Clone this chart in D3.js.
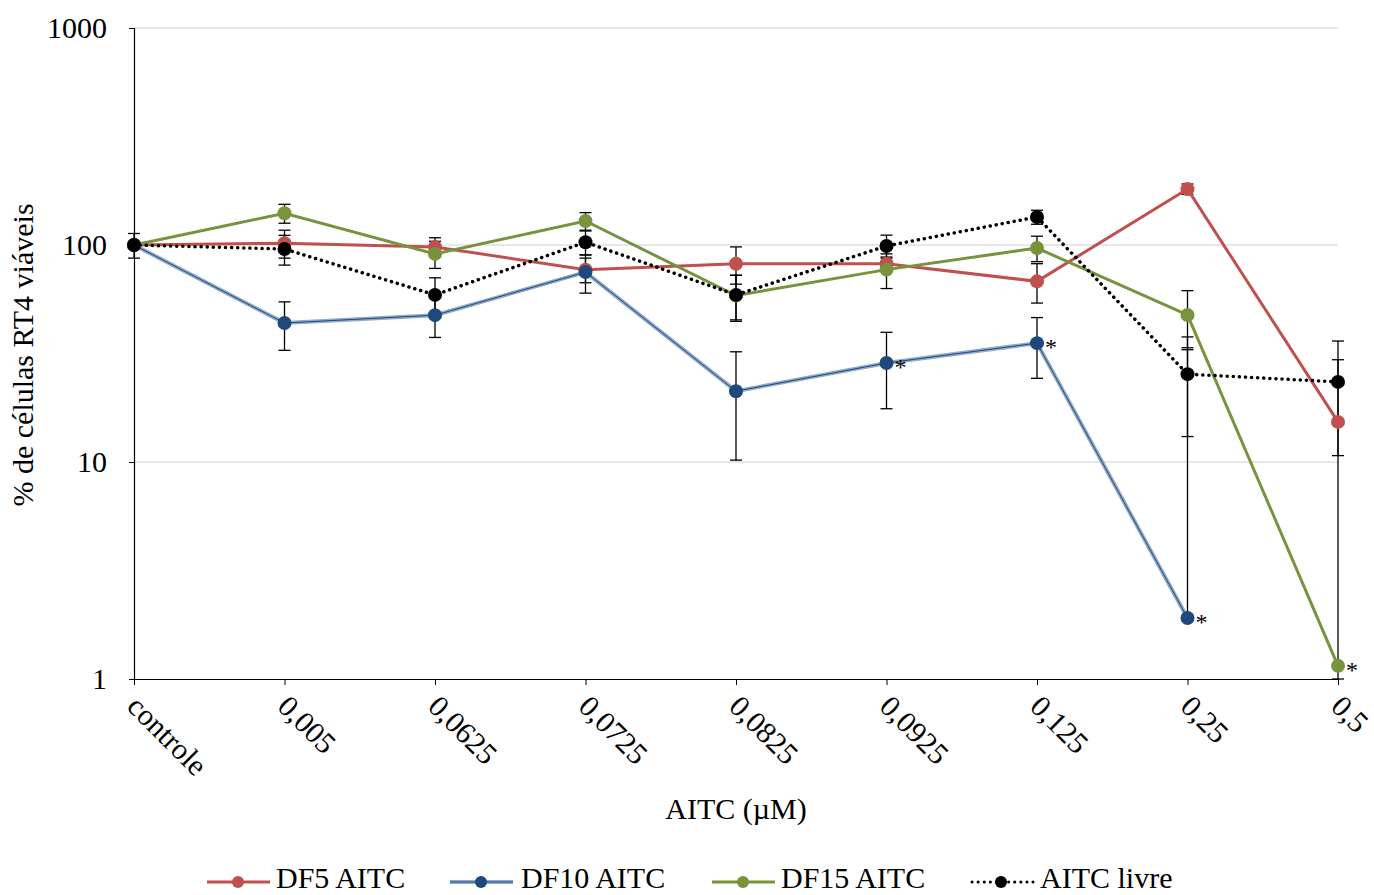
<!DOCTYPE html>
<html><head><meta charset="utf-8">
<script src="https://cdn.jsdelivr.net/npm/d3@7"></script>
<style>body{margin:0;background:#fff}svg{display:block}text{font-family:"Times New Roman",Times,"Liberation Serif",serif !important;fill:#000}</style>
</head><body><svg id="c" width="1374" height="895"></svg>
<script>
const categories = ["controle","0,005","0,0625","0,0725","0,0825","0,0925","0,125","0,25","0,5"];
const yTicks = [1,10,100,1000];
const df5 = [100,102,98,77,82,82,68,181,15.3];
const df5Err = [0,15,10,10,16,6,14,10,14.3];
const df10 = [100,43.7,47.5,75,21.2,28.6,35.3,1.91,null];
const df10Err = [0,11,10,15,11,11,11,31,null];
const df15 = [100,140,91,129,58.5,77,96.8,47.6,1.15];
const df15Err = [0,14,13,12,14,14,13,14,0];
const livre = [100,95.8,58.9,103,58.9,99,134.6,25.4,23.4];
const livreErr = [13,15,11.7,13,13.7,12,10,12.3,12.7];
const stars = [["df10",5],["df10",6],["df10",7],["df15",8]];

const series = [
  {key:"df5", name:"DF5 AITC", v:df5, e:df5Err, color:"#C0504D"},
  {key:"df10", name:"DF10 AITC", v:df10, e:df10Err, color:"#1F497D", halo:"#8FAACB"},
  {key:"df15", name:"DF15 AITC", v:df15, e:df15Err, color:"#77933C"},
  {key:"livre", name:"AITC livre", v:livre, e:livreErr, color:"#000", dotted:true}
];
const FONT = '"Times New Roman", Times, "Liberation Serif", serif';

const svg = d3.select("#c");
const x = d3.scalePoint().domain(categories).range([134,1338]);
const y = d3.scaleLog().domain([1,1000]).range([679,28]);

// grid
svg.append("g").selectAll("line").data(yTicks.slice(1)).join("line")
  .attr("x1",134).attr("x2",1338).attr("y1",d=>y(d)).attr("y2",d=>y(d))
  .attr("stroke","#D0D0D0").attr("stroke-width",1.2);

// y axis
const ya = svg.append("g").attr("transform","translate(134,0)")
  .call(d3.axisLeft(y).tickValues(yTicks).tickFormat(d3.format("d")).tickSize(5).tickPadding(22));
ya.attr("font-family",FONT);
ya.select(".domain").attr("stroke","#000").attr("stroke-width",1.2);
ya.selectAll(".tick line").attr("stroke","#000");
ya.selectAll("text").style("font-size","30px");

// x axis
const xa = svg.append("g").attr("transform","translate(0,679)")
  .call(d3.axisBottom(x).tickSize(6).tickSizeOuter(0));
xa.attr("font-family",FONT);
xa.select(".domain").attr("stroke","#000").attr("stroke-width",1.2);
xa.selectAll(".tick line").attr("stroke","#000");
xa.selectAll("text").style("font-size","30px")
  .attr("text-anchor","start").attr("y",0).attr("dy",0)
  .attr("transform","translate(-9,29) rotate(45)");

// axis titles
svg.append("text").attr("x",736).attr("y",819).attr("text-anchor","middle").style("font-size","30px").text("AITC (µM)");
svg.append("text").attr("transform","translate(33,355) rotate(-90)").attr("text-anchor","middle").style("font-size","30px").text("% de células RT4 viáveis");

// error bars
const eg = svg.append("g");
series.forEach(s=>{
  s.v.forEach((v,i)=>{
    if(v==null) return;
    const e = s.e[i]; if(!e) return;
    const cx = x(categories[i]);
    const hi = v+e, lo = v-e;
    const yHi = y(Math.min(hi,1000));
    const yLo = lo>0 ? y(Math.max(lo,1)) : y(v);
    eg.append("line").attr("x1",cx).attr("x2",cx).attr("y1",yHi).attr("y2",yLo).attr("stroke","#000").attr("stroke-width",1.3);
    eg.append("line").attr("x1",cx-6).attr("x2",cx+6).attr("y1",yHi).attr("y2",yHi).attr("stroke","#000").attr("stroke-width",1.3);
    if(lo>0) eg.append("line").attr("x1",cx-6).attr("x2",cx+6).attr("y1",yLo).attr("y2",yLo).attr("stroke","#000").attr("stroke-width",1.3);
  });
});

// lines
const line = d3.line().defined(d=>d.v!=null).x(d=>x(d.c)).y(d=>y(d.v));
series.forEach(s=>{
  const pts = s.v.map((v,i)=>({c:categories[i],v}));
  if(s.halo){
    svg.append("path").datum(pts).attr("d",line).attr("fill","none").attr("stroke",s.halo).attr("stroke-width",4);
    svg.append("path").datum(pts).attr("d",line).attr("fill","none").attr("stroke",s.color).attr("stroke-width",1);
  } else if(s.dotted){
    svg.append("path").datum(pts).attr("d",line).attr("fill","none").attr("stroke",s.color).attr("stroke-width",3.5)
      .attr("stroke-dasharray","0.1 6").attr("stroke-linecap","round");
  } else {
    svg.append("path").datum(pts).attr("d",line).attr("fill","none").attr("stroke",s.color).attr("stroke-width",3);
  }
});
// markers
series.forEach(s=>{
  svg.append("g").selectAll("circle").data(s.v.map((v,i)=>({c:categories[i],v})).filter(d=>d.v!=null)).join("circle")
    .attr("cx",d=>x(d.c)).attr("cy",d=>y(d.v)).attr("r",7).attr("fill",s.color);
});
// asterisks
stars.forEach(([k,i])=>{
  const s = series.find(t=>t.key===k);
  svg.append("text").attr("x",x(categories[i])+8).attr("y",y(s.v[i])+12).style("font-size","24px").text("*");
});

// legend
const leg = [[207,276],[450,521],[712,781],[970,1040]];
series.forEach((s,i)=>{
  const [x0,tx] = leg[i];
  const g = svg.append("g");
  if(s.halo){
    g.append("line").attr("x1",x0).attr("x2",x0+63).attr("y1",882).attr("y2",882).attr("stroke",s.halo).attr("stroke-width",4);
    g.append("line").attr("x1",x0).attr("x2",x0+63).attr("y1",882).attr("y2",882).attr("stroke",s.color).attr("stroke-width",1);
  } else if(s.dotted){
    g.append("line").attr("x1",x0+2).attr("x2",x0+63).attr("y1",882).attr("y2",882).attr("stroke",s.color).attr("stroke-width",3)
      .attr("stroke-dasharray","0.1 6").attr("stroke-linecap","round");
  } else {
    g.append("line").attr("x1",x0).attr("x2",x0+63).attr("y1",882).attr("y2",882).attr("stroke",s.color).attr("stroke-width",3);
  }
  g.append("circle").attr("cx",x0+31).attr("cy",882).attr("r",6).attr("fill",s.color);
  g.append("text").attr("x",tx).attr("y",888).style("font-size","30px").text(s.name);
});
</script></body></html>
